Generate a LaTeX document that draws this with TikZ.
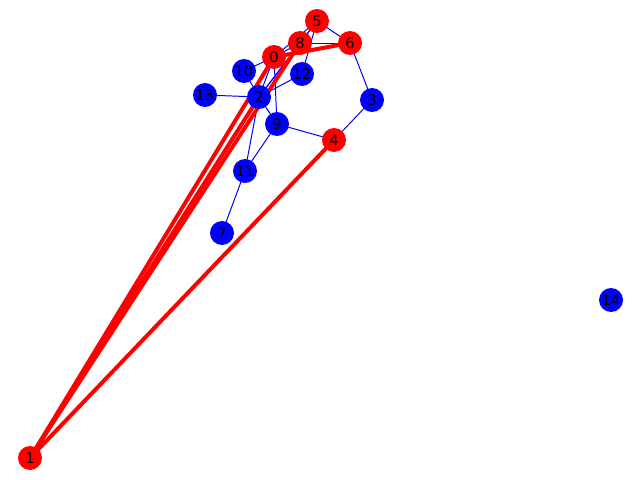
\documentclass[tikz,border=0pt]{standalone}
\usepackage{fontspec}
\setmainfont{DejaVu Sans}
\pgfdeclarelayer{bg}
\pgfsetlayers{bg,main}
\begin{document}
\begin{tikzpicture}[x=0.03cm,y=-0.03cm,
  vb/.style={circle,fill=blue,minimum size=0.72cm,inner sep=0pt,font=\fontsize{12.5}{14}\selectfont},
  vr/.style={circle,fill=red,minimum size=0.72cm,inner sep=0pt,font=\fontsize{12.5}{14}\selectfont},
  eb/.style={draw=blue,line width=0.85pt},
  er/.style={draw=red,line width=3.4pt}]
\useasboundingbox (0,0) rectangle (640,480);
\node[vr] (n0) at (274,57) {0};
\node[vr] (n1) at (30,458) {1};
\node[vb] (n2) at (259,97) {2};
\node[vb] (n3) at (372,100) {3};
\node[vr] (n4) at (334,140) {4};
\node[vr] (n5) at (317,21) {5};
\node[vr] (n6) at (350,43) {6};
\node[vb] (n7) at (222,233) {7};
\node[vr] (n8) at (300,43) {8};
\node[vb] (n9) at (277,124) {9};
\node[vb] (n10) at (244,71) {10};
\node[vb] (n11) at (245,171) {11};
\node[vb] (n12) at (302,74) {12};
\node[vb] (n13) at (205,95) {13};
\node[vb] (n14) at (611,300) {14};
\begin{pgfonlayer}{bg}
\foreach \a/\b in {n0/n2,n0/n10,n0/n9,n0/n5,n0/n8,n2/n8,n2/n5,n2/n10,n2/n13,n2/n9,n2/n11,n2/n12,n9/n11,n9/n4,n11/n7,n4/n3,n3/n6,n5/n6,n8/n6,n8/n5,n5/n12}
  \draw[eb] (\a.center) -- (\b.center);
\foreach \a/\b in {n1/n0,n1/n2,n1/n8,n1/n4,n0/n6}
  \draw[er] (\a.center) -- (\b.center);
\end{pgfonlayer}
\end{tikzpicture}
\end{document}
